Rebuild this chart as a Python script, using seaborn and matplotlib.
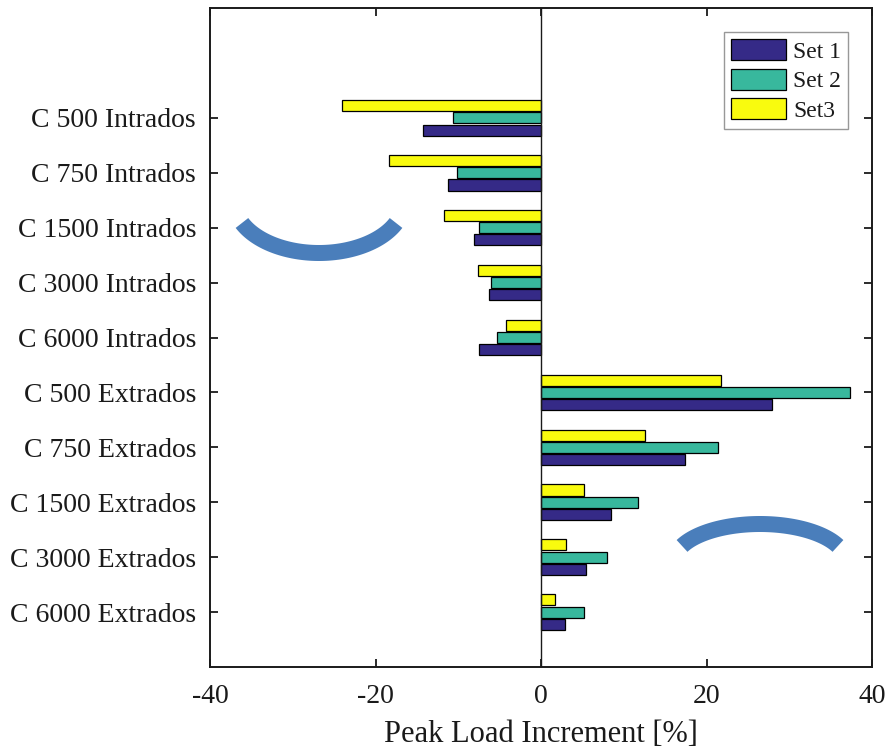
import numpy as np
import pandas as pd
import matplotlib
matplotlib.use("Agg")
import matplotlib.pyplot as plt
import seaborn as sns
from matplotlib.patches import Patch
from matplotlib.lines import Line2D
from matplotlib.transforms import IdentityTransform

categories = ["C 500 Intrados", "C 750 Intrados", "C 1500 Intrados", "C 3000 Intrados",
              "C 6000 Intrados", "C 500 Extrados", "C 750 Extrados", "C 1500 Extrados",
              "C 3000 Extrados", "C 6000 Extrados"]
set1 = [-14.3, -11.2, -8.1, -6.3, -7.5, 27.9, 17.4, 8.5, 5.4, 2.9]
set2 = [-10.6, -10.1, -7.5, -6.0, -5.3, 37.4, 21.4, 11.7, 8.0, 5.2]
set3 = [-24.1, -18.4, -11.7, -7.6, -4.2, 21.8, 12.6, 5.2, 3.0, 1.7]
series_names = ["Set 1", "Set 2", "Set3"]
xticks = [-40, -20, 0, 20, 40]
xlabel = "Peak Load Increment [%]"

colors = {"Set 1": "#352a87", "Set 2": "#38b89d", "Set3": "#f9fb0e"}

df = pd.DataFrame({
    "cat": categories * 3,
    "val": set1 + set2 + set3,
    "series": ["Set 1"] * 10 + ["Set 2"] * 10 + ["Set3"] * 10,
})

sns.set_style("white")
plt.rcParams["font.family"] = ["Liberation Serif", "DejaVu Serif"]
tc = "#1a1a1a"

fig = plt.figure(figsize=(8.88, 7.51), dpi=100)
ax = fig.add_axes([210 / 888, 84 / 751, 662 / 888, 659 / 751])

sns.barplot(data=df, y="cat", x="val", hue="series", order=categories,
            hue_order=["Set3", "Set 2", "Set 1"], palette=colors, saturation=1,
            orient="h", width=0.67, gap=0.1, dodge=True,
            edgecolor="black", linewidth=0.9, errorbar=None, legend=False, ax=ax)

ax.axvline(0, color=tc, lw=1.0, zorder=5)
ax.set_xlim(-40, 40)
ax.set_ylim(10, -2)
ax.set_xticks(xticks)
ax.set_xticklabels([str(t) for t in xticks])
ax.set_xlabel(xlabel, fontsize=22, color=tc, labelpad=8)
ax.set_ylabel("")
ax.tick_params(axis="both", direction="in", length=6, width=1.3, colors=tc,
               labelsize=20, top=True, right=True, bottom=True, left=True)
ax.tick_params(axis="x", pad=12)
ax.tick_params(axis="y", pad=10)
for s in ax.spines.values():
    s.set_visible(True)
    s.set_color(tc)
    s.set_linewidth(1.4)

handles = [Patch(facecolor=colors[n], edgecolor="black", linewidth=0.9, label=n) for n in series_names]
leg = ax.legend(handles=handles, loc="upper right", bbox_to_anchor=(0.9637, 0.9636),
                borderaxespad=0, fontsize=17, frameon=True, fancybox=False,
                handlelength=2.3, handleheight=1.0, handletextpad=0.3,
                labelspacing=0.25, borderpad=0.3)
leg.get_frame().set_edgecolor("#7f7f7f")
leg.get_frame().set_linewidth(1.0)
for t in leg.get_texts():
    t.set_color(tc)

# decorative arcs (pixel coordinates)
H = 751
def arc(cx, cy, a, b, t0, smile):
    t = np.linspace(-np.radians(t0), np.radians(t0), 100)
    x = cx + a * np.sin(t)
    if smile:
        y = cy + b * np.cos(t)
    else:
        y = cy - b * np.cos(t)
    line = Line2D(x, H - y, color="#4a7ebb", lw=16 * 0.72, solid_capstyle="butt",
                  transform=IdentityTransform())
    fig.add_artist(line)

arc(319, 253 - 52, 85, 52, 65, True)
arc(760, 524 + 38, 86, 38, 65, False)

fig.savefig("out.png", dpi=100)
